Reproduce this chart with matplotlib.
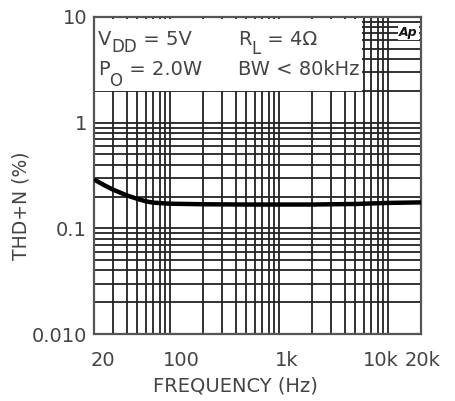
import numpy as np
import matplotlib
matplotlib.use("Agg")
import matplotlib.pyplot as plt
from matplotlib.patches import Rectangle
from matplotlib.ticker import NullFormatter, LogLocator
from matplotlib.transforms import ScaledTranslation

plt.rcParams['font.family'] = ['DejaVu Sans']

# THD+N vs frequency (VDD = 5V, RL = 4 ohm, PO = 2.0W)
freq_hz = [20, 25, 30, 40, 50, 60, 70, 100, 200, 500, 1000, 2000, 5000, 10000, 20000]
thd_pct = [0.29, 0.255, 0.232, 0.205, 0.19, 0.18, 0.175, 0.171, 0.169, 0.168, 0.168, 0.168, 0.170, 0.174, 0.176]

x_ticks = [20, 100, 1000, 10000, 20000]
x_labels = ["20", "100", "1k", "10k", "20k"]
y_ticks = [0.01, 0.1, 1, 10]
y_labels = ["0.010", "0.1", "1", "10"]

TXT = "#444444"
GRID = "#222222"

fig = plt.figure(figsize=(4.56, 4.01), dpi=100)
ax = fig.add_axes([94 / 456, 1 - 334 / 401, 327 / 456, 317 / 401])
ax.set_xscale("log"); ax.set_yscale("log")
ax.set_xlim(20, 20000); ax.set_ylim(0.01, 10)

ax.set_axisbelow(True)
ax.xaxis.set_minor_locator(LogLocator(base=10, subs=np.arange(2, 10)))
ax.yaxis.set_minor_locator(LogLocator(base=10, subs=np.arange(2, 10)))
ax.grid(True, which="both", color=GRID, lw=1.3)
ax.xaxis.set_minor_formatter(NullFormatter())
ax.yaxis.set_minor_formatter(NullFormatter())
ax.set_xticks(x_ticks); ax.set_xticklabels(x_labels)
ax.set_yticks(y_ticks); ax.set_yticklabels(y_labels)
ax.tick_params(which="both", length=0, labelsize=14, labelcolor=TXT)
ax.tick_params(axis="x", pad=12)
ax.tick_params(axis="y", pad=5)

# nudge x tick labels like the original artwork
for lab, dx in zip(ax.get_xticklabels(), [9, 11, 7, -7, 2]):
    lab.set_transform(lab.get_transform() + ScaledTranslation(dx / 100, 0, fig.dpi_scale_trans))

for sp in ax.spines.values():
    sp.set_color("#555555"); sp.set_linewidth(1.6)

# white condition box over the grid
ax.add_patch(Rectangle((20, 2.0), 5800 - 20, 9.55 - 2.0, facecolor="white",
                       edgecolor="none", zorder=1))


def sub_label(x, y, main, sub, rest, drop):
    t1 = ax.text(x, y, main, transform=ax.transAxes, fontsize=14, color=TXT,
                 ha="left", va="baseline", zorder=2)
    t2 = ax.annotate(sub, xy=(1, 0), xycoords=t1, xytext=(0, -drop),
                     textcoords="offset points", fontsize=12, color=TXT,
                     ha="left", va="baseline", zorder=2)
    ax.annotate(rest, xy=(1, 0), xycoords=(t2, t1), fontsize=14, color=TXT,
                ha="left", va="bottom", zorder=2)


sub_label(0.012, 0.912, "V", "DD", " = 5V", 2.5)
sub_label(0.44, 0.912, "R", "L", " = 4Ω", 3.5)
sub_label(0.012, 0.817, "P", "O", " = 2.0W", 5.0)
ax.text(0.44, 0.817, "BW < 80kHz", transform=ax.transAxes,
        fontsize=14, color=TXT, va="baseline", ha="left", zorder=2)

# small logo, top-right
ax.text(0.962, 0.952, "Ap", transform=ax.transAxes, fontsize=9, fontweight="bold",
        fontstyle="italic", color="#111111", ha="center", va="center", zorder=2,
        bbox=dict(facecolor="white", edgecolor="none", pad=0.8))

ax.plot(freq_hz, thd_pct, color="black", lw=3.2, solid_capstyle="butt", zorder=3)

ax.set_xlabel("FREQUENCY (Hz)", fontsize=14, color=TXT)
ax.xaxis.set_label_coords(0.434, -0.135)
fig.text(21 / 456, 1 - 206 / 401, "THD+N (%)", rotation=90, fontsize=13.5,
         color=TXT, ha="center", va="center")

fig.savefig("out.png", dpi=100)
